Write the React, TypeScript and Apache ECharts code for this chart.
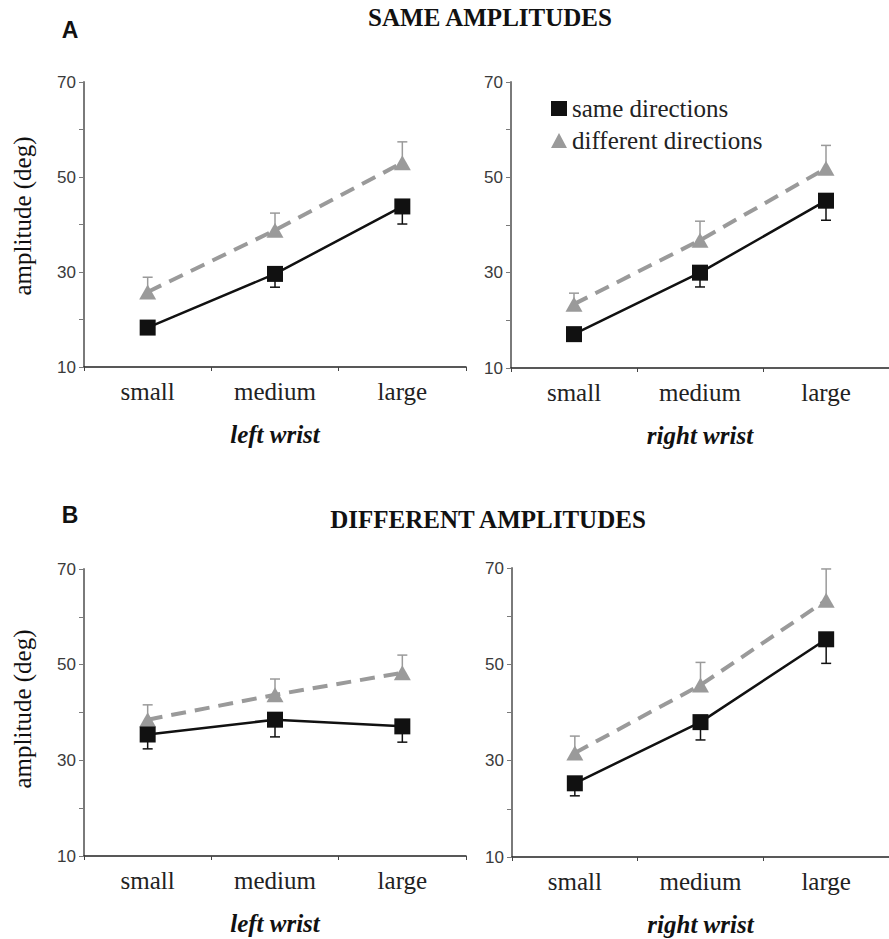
import React, { useEffect, useRef } from "react";
import * as echarts from "echarts";

const categories = ["small", "medium", "large"];
const tickLabels = [10, 30, 50, 70];
const seriesNames = ["same directions", "different directions"];
const wristNames = ["left wrist", "right wrist", "left wrist", "right wrist"];
const sectionTitles = ["SAME AMPLITUDES", "DIFFERENT AMPLITUDES"];
const panelLetters = ["A", "B"];
const yAxisTitle = "amplitude (deg)";

// A: same amplitudes
const sameAmpLeftSame = [18.3, 29.6, 43.8];
const sameAmpLeftSameErr = [17.0, 26.8, 40.1];
const sameAmpLeftDiff = [25.8, 38.8, 53.0];
const sameAmpLeftDiffErr = [28.9, 42.4, 57.4];
const sameAmpRightSame = [17.1, 30.0, 45.1];
const sameAmpRightSameErr = [16.0, 27.0, 41.0];
const sameAmpRightDiff = [23.4, 36.8, 51.9];
const sameAmpRightDiffErr = [25.7, 40.8, 56.7];
// B: different amplitudes
const diffAmpLeftSame = [35.4, 38.5, 37.1];
const diffAmpLeftSameErr = [32.4, 34.9, 33.8];
const diffAmpLeftDiff = [38.5, 43.7, 48.3];
const diffAmpLeftDiffErr = [41.6, 47.0, 52.0];
const diffAmpRightSame = [25.3, 38.0, 55.2];
const diffAmpRightSameErr = [22.7, 34.3, 50.2];
const diffAmpRightDiff = [31.6, 45.7, 63.3];
const diffAmpRightDiffErr = [35.1, 50.4, 69.8];

const panels = [
  { same: sameAmpLeftSame, sameErr: sameAmpLeftSameErr, diff: sameAmpLeftDiff, diffErr: sameAmpLeftDiffErr },
  { same: sameAmpRightSame, sameErr: sameAmpRightSameErr, diff: sameAmpRightDiff, diffErr: sameAmpRightDiffErr },
  { same: diffAmpLeftSame, sameErr: diffAmpLeftSameErr, diff: diffAmpLeftDiff, diffErr: diffAmpLeftDiffErr },
  { same: diffAmpRightSame, sameErr: diffAmpRightSameErr, diff: diffAmpRightDiff, diffErr: diffAmpRightDiffErr },
];

const grids = [
  { left: 84, top: 82, width: 382, height: 285 },
  { left: 511, top: 82, width: 384, height: 286 },
  { left: 84, top: 569, width: 382, height: 287 },
  { left: 512, top: 568, width: 384, height: 289 },
];

const SERIF = "Liberation Serif";
const SANS = "Liberation Sans";
const GRAY = "#9a9a9a";
const BLACK = "#111111";

function errorSeries(idx: number, vals: number[], errs: number[], color: string, name: string) {
  return {
    type: "custom",
    name,
    xAxisIndex: idx,
    yAxisIndex: idx,
    z: 1,
    silent: true,
    encode: { x: 0, y: [1, 2] },
    data: vals.map((v, i) => [i, v, errs[i]]),
    renderItem: (params: any, api: any) => {
      const x = api.value(0);
      const p1 = api.coord([x, api.value(1)]);
      const p2 = api.coord([x, api.value(2)]);
      const style = { stroke: color, lineWidth: 1.5 };
      return {
        type: "group",
        children: [
          { type: "line", shape: { x1: p1[0], y1: p1[1], x2: p2[0], y2: p2[1] }, style },
          { type: "line", shape: { x1: p2[0] - 5, y1: p2[1], x2: p2[0] + 5, y2: p2[1] }, style },
        ],
      };
    },
  };
}

export default function App() {
  const ref = useRef<HTMLDivElement>(null);
  useEffect(() => {
    if (!ref.current) return;
    const chart = echarts.init(ref.current, undefined, { renderer: "svg" });

    const xAxes = grids.map((_, i) => ({
      type: "category",
      gridIndex: i,
      data: categories,
      boundaryGap: true,
      axisLine: { lineStyle: { color: "#222", width: 1.5 } },
      axisTick: { show: true, length: 4, lineStyle: { color: "#444" } },
      axisLabel: { margin: 12, fontFamily: SERIF, fontSize: 25, color: "#222" },
      name: wristNames[i],
      nameLocation: "middle",
      nameGap: 55,
      nameTextStyle: { fontFamily: SERIF, fontSize: 25, fontWeight: "bold", fontStyle: "italic", color: "#111" },
      splitLine: { show: false },
    }));

    const yAxes = grids.map((_, i) => ({
      type: "value",
      gridIndex: i,
      min: 10,
      max: 70,
      interval: 10,
      axisLine: { show: true, lineStyle: { color: "#7a7a7a", width: 2 } },
      axisTick: { show: true, length: 5, lineStyle: { color: "#7a7a7a" } },
      axisLabel: {
        margin: 8,
        fontFamily: SANS,
        fontSize: 17,
        color: "#3a3a3a",
        formatter: (v: number) => (tickLabels.includes(v) ? String(v) : ""),
      },
      splitLine: { show: false },
    }));

    const series: any[] = [];
    panels.forEach((p, i) => {
      series.push(errorSeries(i, p.diff, p.diffErr, GRAY, seriesNames[1]));
      series.push(errorSeries(i, p.same, p.sameErr, BLACK, seriesNames[0]));
      series.push({
        type: "line",
        name: seriesNames[1],
        xAxisIndex: i,
        yAxisIndex: i,
        data: p.diff,
        z: 2,
        symbol: "triangle",
        symbolSize: [17, 15],
        lineStyle: { color: GRAY, width: 4, type: [15, 9] },
        itemStyle: { color: GRAY },
      });
      series.push({
        type: "line",
        name: seriesNames[0],
        xAxisIndex: i,
        yAxisIndex: i,
        data: p.same,
        z: 3,
        symbol: "rect",
        symbolSize: 16,
        lineStyle: { color: BLACK, width: 2.5, type: "solid" },
        itemStyle: { color: BLACK },
      });
    });

    const textEl = (text: string, x: number, y: number, font: string, size: number, bold: boolean, rotation = 0) => ({
      type: "text",
      x,
      y,
      rotation,
      style: {
        text,
        fontFamily: font,
        fontSize: size,
        fontWeight: bold ? "bold" : "normal",
        fill: "#111",
        align: "center",
        verticalAlign: "middle",
        textAlign: "center",
        textVerticalAlign: "middle",
      },
    });

    const legendText = { fontFamily: SERIF, fontSize: 25, color: "#222" };

    chart.setOption({
      animation: false,
      backgroundColor: "#ffffff",
      grid: grids.map((g) => ({ ...g, containLabel: false })),
      xAxis: xAxes,
      yAxis: yAxes,
      series,
      legend: {
        orient: "vertical",
        left: 546,
        top: 91,
        itemWidth: 16,
        itemHeight: 15,
        itemGap: 7,
        selectedMode: false,
        textStyle: legendText,
        data: [
          { name: seriesNames[0], icon: "rect", itemStyle: { color: BLACK }, textStyle: legendText },
          { name: seriesNames[1], icon: "triangle", itemStyle: { color: GRAY }, textStyle: legendText },
        ],
      },
      graphic: [
        textEl(panelLetters[0], 70, 30, SANS, 23, true),
        textEl(panelLetters[1], 70, 515, SANS, 23, true),
        textEl(sectionTitles[0], 490, 17, SERIF, 25, true),
        textEl(sectionTitles[1], 488, 519, SERIF, 25, true),
        textEl(yAxisTitle, 22, 216, SERIF, 25, false, Math.PI / 2),
        textEl(yAxisTitle, 22, 709, SERIF, 25, false, Math.PI / 2),
      ],
    });
    return () => chart.dispose();
  }, []);
  return (
    <div
      ref={ref}
      style={{ position: "fixed", left: 0, top: 0, width: 889, height: 939, background: "#fff" }}
    />
  );
}
